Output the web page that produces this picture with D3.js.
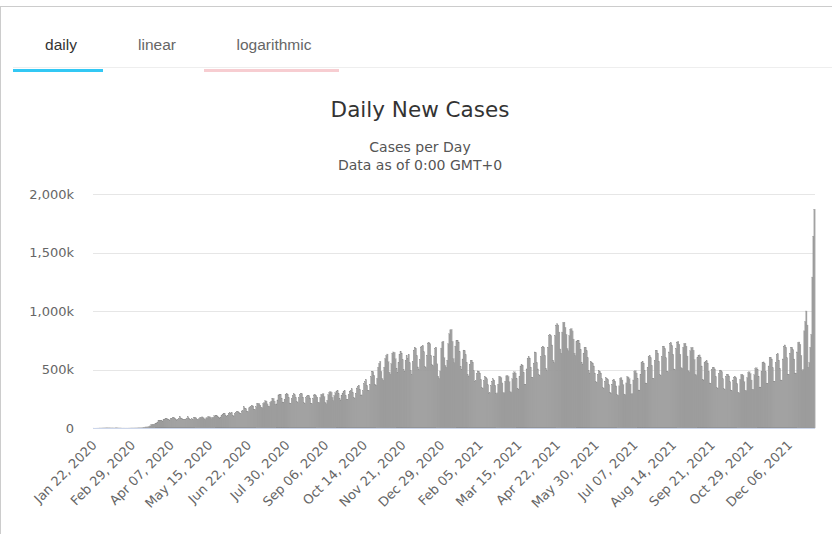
<!DOCTYPE html>
<html>
<head>
<meta charset="utf-8">
<script src="https://cdn.jsdelivr.net/npm/d3@7"></script>
<style>
  html, body { margin: 0; padding: 0; background: #fff; }
  svg { display: block; }
</style>
</head>
<body>
<svg id="chart" width="832" height="534"></svg>
<script>
// ---- data ----
const startDate = "2020-01-22";
const tabs = ["daily", "linear", "logarithmic"];
const title = "Daily New Cases";
const subtitles = ["Cases per Day", "Data as of 0:00 GMT+0"];
const yTicksK = [0, 500, 1000, 1500, 2000];
const xTickLabels = ["Jan 22, 2020","Feb 29, 2020","Apr 07, 2020","May 15, 2020","Jun 22, 2020","Jul 30, 2020","Sep 06, 2020","Oct 14, 2020","Nov 21, 2020","Dec 29, 2020","Feb 05, 2021","Mar 15, 2021","Apr 22, 2021","May 30, 2021","Jul 07, 2021","Aug 14, 2021","Sep 21, 2021","Oct 29, 2021","Dec 06, 2021"];
// daily new cases in thousands, one row per week (Wed..Tue), from Jan 22, 2020
const dailyNewCasesK = [
  0.6,0.1,0.3,0.5,0.7,0.8,1.8,
  1.5,1.8,2.1,2.6,2.8,3.2,3.9,
  3.7,3.2,3.4,2.7,2.6,3.0,2.0,
  2.0,5.0,4.0,2.7,2.1,2.0,1.9,
  0.6,0.9,1.0,0.6,0.8,0.6,0.9,
  1.0,1.3,1.8,2.0,1.8,2.0,2.4,
  2.4,2.7,3.7,4.0,3.8,4.2,4.7,
  7.3,7.4,10.5,10.9,11.5,14.0,15.6,
  18,28,31,31,33,37,43,
  51,63,63,63,61,59,75,
  77,84,82,77,72,68,78,
  83,87,92,84,77,68,74,
  81,98,86,82,76,73,74,
  77,85,96,85,73,72,78,
  75,88,93,86,76,74,82,
  91,92,95,88,79,74,86,
  88,97,96,92,81,89,92,
  104,106,110,100,92,86,94,
  110,118,126,124,106,101,110,
  125,130,128,133,109,103,121,
  132,138,142,137,127,123,146,
  148,182,170,165,138,140,172,
  180,186,193,189,159,159,181,
  212,207,208,195,177,173,210,
  216,233,230,206,188,186,220,
  230,255,252,230,203,206,240,
  283,285,288,256,222,217,246,
  286,296,287,261,214,211,250,
  276,292,284,262,227,215,258,
  284,296,293,264,216,211,258,
  274,280,277,257,212,209,253,
  283,287,278,264,220,218,260,
  285,288,294,268,219,207,237,
  285,305,312,305,262,235,278,
  301,316,319,294,249,239,280,
  299,315,320,278,246,246,285,
  316,318,335,305,262,253,297,
  342,355,365,330,282,283,318,
  378,395,415,364,319,323,374,
  438,486,482,450,373,367,424,
  519,552,570,484,423,410,520,
  593,620,632,566,477,461,550,
  640,650,645,591,509,478,562,
  630,657,641,583,497,485,578,
  620,594,630,557,491,460,567,
  666,691,682,620,522,500,584,
  693,700,705,652,525,516,623,
  727,731,720,620,540,534,615,
  680,690,548,442,423,487,683,
  735,742,600,535,520,580,720,
  805,838,842,740,593,559,700,
  747,748,735,651,525,500,590,
  666,660,627,560,455,440,545,
  575,580,563,490,400,405,465,
  488,485,470,415,345,340,405,
  440,435,420,370,300,302,362,
  398,420,410,365,295,300,375,
  440,438,430,385,300,302,400,
  445,450,440,395,310,305,420,
  470,480,470,420,335,330,440,
  530,540,535,475,375,370,505,
  595,610,598,520,435,430,555,
  650,645,560,505,455,450,610,
  690,700,690,620,510,490,690,
  790,800,790,710,580,560,790,
  880,890,880,820,675,640,820,
  900,905,860,800,680,660,790,
  845,850,830,760,640,620,740,
  745,750,720,670,560,540,640,
  685,690,660,600,490,470,570,
  560,555,530,470,395,390,460,
  490,485,470,420,345,340,400,
  430,425,415,370,305,300,375,
  410,415,400,360,285,280,360,
  425,430,410,370,290,285,385,
  440,435,420,375,290,295,410,
  485,490,470,420,325,320,460,
  560,570,555,490,385,380,520,
  610,620,600,535,425,420,580,
  660,665,640,570,455,450,610,
  695,700,680,600,485,480,650,
  725,730,705,630,505,500,680,
  735,740,715,630,515,510,690,
  720,725,700,615,490,480,660,
  685,690,665,585,460,450,600,
  620,625,600,530,415,410,560,
  570,575,555,485,385,380,500,
  515,520,505,440,345,340,465,
  490,495,480,420,335,330,440,
  455,460,445,395,325,320,410,
  435,440,430,380,305,300,415,
  455,460,450,395,320,320,430,
  475,480,465,410,330,330,455,
  510,515,500,440,350,350,480,
  560,565,550,480,380,380,530,
  600,605,590,515,400,400,560,
  630,635,580,510,410,410,590,
  700,710,690,600,460,460,640,
  685,690,670,590,470,470,650,
  730,735,715,620,490,500,830,
  910,1000,880,520,560,690,800,
  1290,1640,1870
];

// ---- drawing ----
const svg = d3.select("#chart");
const W = 832, H = 534;
const fmtDate = d3.timeFormat("%b %d, %Y");
const start = d3.timeParse("%Y-%m-%d")(startDate);
const categories = dailyNewCasesK.map((_, i) => fmtDate(d3.timeDay.offset(start, i)));

// frame
svg.append("rect").attr("x", 0.5).attr("y", 6.5).attr("width", W + 10).attr("height", H)
  .attr("fill", "none").attr("stroke", "#cccccc");

// tabs
svg.append("line").attr("x1", 13).attr("x2", 832).attr("y1", 67.5).attr("y2", 67.5)
  .attr("stroke", "#eeeeee");
const tabX = [61, 157, 274];
tabs.forEach((t, i) => {
  svg.append("text").attr("x", tabX[i]).attr("y", 50).attr("text-anchor", "middle")
    .attr("font-family", "Liberation Sans, Arial, sans-serif").attr("font-size", 15.5)
    .attr("fill", i === 0 ? "#333333" : "#666666").text(t);
});
svg.append("rect").attr("x", 13).attr("y", 69).attr("width", 90).attr("height", 3).attr("fill", "#33c8f4");
svg.append("rect").attr("x", 204).attr("y", 69).attr("width", 135).attr("height", 3).attr("fill", "#f7cdd1");

// titles
const font = "DejaVu Sans, Verdana, sans-serif";
svg.append("text").attr("x", 420).attr("y", 117).attr("text-anchor", "middle")
  .attr("font-family", font).attr("font-size", 21.5).attr("fill", "#333333").text(title);
subtitles.forEach((s, i) => {
  svg.append("text").attr("x", 420).attr("y", 152 + i * 18).attr("text-anchor", "middle")
    .attr("font-family", font).attr("font-size", 14).attr("fill", "#555555").text(s);
});

// scales
const x = d3.scaleBand().domain(categories).range([93, 815]).paddingInner(0).paddingOuter(0);
const y = d3.scaleLinear().domain([0, 2000]).range([428, 194]);

// grid
const g = svg.append("g");
g.selectAll("line.grid").data(yTicksK.filter(d => d > 0)).join("line")
  .attr("x1", 93).attr("x2", 815)
  .attr("y1", d => Math.round(y(d)) + 0.5).attr("y2", d => Math.round(y(d)) + 0.5)
  .attr("stroke", "#e6e6e6");

// y axis
const yAxis = d3.axisLeft(y).tickValues(yTicksK).tickSize(0).tickPadding(0)
  .tickFormat(d => d === 0 ? "0" : d3.format(",")(d) + "k");
const ya = svg.append("g").attr("transform", "translate(74,0)").call(yAxis);
ya.select(".domain").remove();
ya.selectAll("text").attr("font-family", font).attr("font-size", 13).attr("fill", "#666666");

// bars (slightly overlapping so the dense columns render as a solid mass)
const bw = x.bandwidth();
svg.append("g").selectAll("rect").data(dailyNewCasesK).join("rect")
  .attr("x", (d, i) => x(categories[i]) - bw * 0.15)
  .attr("width", bw * 1.3)
  .attr("y", d => y(d))
  .attr("height", d => y(0) - y(d))
  .attr("fill", "#a2a2a2")
  .attr("stroke", d => (y(0) - y(d)) > 2 ? "#8e8e8e" : "none").attr("stroke-width", 0.25);

// x axis line
svg.append("line").attr("x1", 93).attr("x2", 815).attr("y1", 428.5).attr("y2", 428.5)
  .attr("stroke", "#ccd6eb");

// x axis labels
const tickIdx = xTickLabels.map(l => categories.indexOf(l));
const xAxis = d3.axisBottom(x).tickValues(tickIdx.map(i => categories[i])).tickSize(0).tickPadding(0);
const xa = svg.append("g").attr("transform", "translate(0,428)").call(xAxis);
xa.select(".domain").remove();
xa.selectAll("text")
  .attr("font-family", font).attr("font-size", 13).attr("fill", "#666666")
  .attr("text-anchor", "end").attr("dy", null).attr("y", 0)
  .attr("transform", "translate(4,18) rotate(-45)");
</script>
</body>
</html>
